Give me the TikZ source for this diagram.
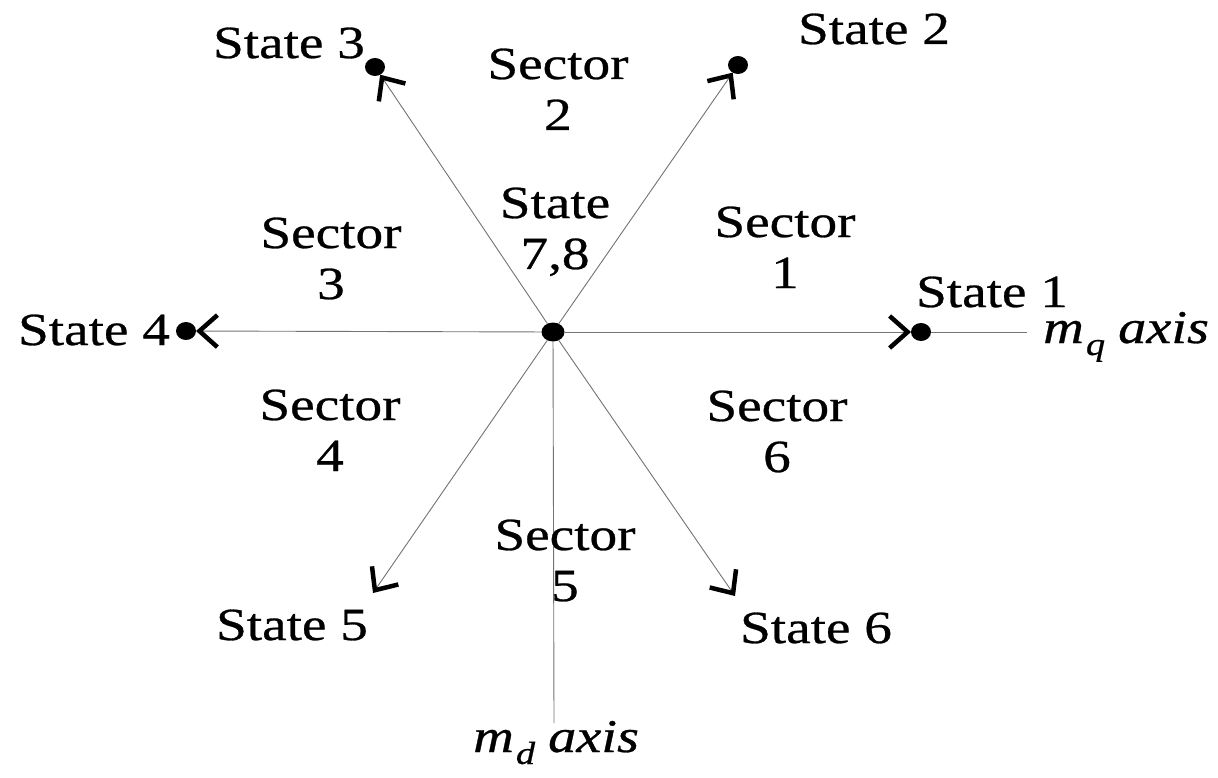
\documentclass[tikz,border=0pt]{standalone}
\usepackage{fontspec}
\setmainfont{Liberation Serif}[FakeStretch=1.2,FakeBold=0.6]
\usetikzlibrary{arrows.meta,shapes.geometric}
\begin{document}
\begin{tikzpicture}[x=1pt,y=-1pt,
  lbl/.style={font=\fontsize{46}{51}\selectfont, align=center, anchor=base, inner sep=0pt},
  axlbl/.style={font=\fontsize{47}{48}\selectfont\itshape, anchor=base west, inner sep=0pt},
  dot/.style={ellipse, fill=black, minimum width=20pt, minimum height=18pt, inner sep=0pt, outer sep=0pt},
  cdot/.style={ellipse, fill=black, minimum width=23pt, minimum height=19pt, inner sep=0pt, outer sep=0pt},
  ray/.style={draw=black!55, line width=0.9pt, -{Straight Barb[length=18pt,width=32pt,line width=4.5pt,color=black]}},
  axisline/.style={draw=black!55, line width=0.9pt}
]
\useasboundingbox (0,0) rectangle (1218,778);
% dots
\node[cdot] (c) at (553,332) {};
\node[dot] (s1) at (921,332) {};
\node[dot] (s4) at (186,331) {};
\node[dot] (s3) at (375,67) {};
\node[dot] (s2) at (738,65) {};
\coordinate (e5) at (373,593);
\coordinate (e6) at (735,596);
\coordinate (qend) at (1027,332);
\coordinate (dend) at (554,723);
% connectors
\draw[ray] (c) -- (s1);
\draw[ray] (c) -- (s4);
\draw[ray] (c) -- (s3);
\draw[ray] (c) -- (s2);
\draw[ray] (c) -- (e5);
\draw[ray] (c) -- (e6);
\draw[axisline] (s1) -- (qend);
\draw[axisline] (c) -- (dend);
% labels (multi-line nodes: base = baseline of last line)
\node[lbl] (ls2) at (874,44) {State 2};
\node[lbl] (ls3) at (289,58) {State 3};
\node[lbl] (sec2) at (558,130) {Sector\\2};
\node[lbl] (ls78) at (555,269) {State\\7,8};
\node[lbl] (sec3) at (331,299) {Sector\\3};
\node[lbl] (sec1) at (785,288) {Sector\\1};
\node[lbl] (ls1) at (992,307) {State 1};
\node[lbl] (ls4) at (94,345) {State 4};
\node[lbl] (sec4) at (330,471) {Sector\\4};
\node[lbl] (sec6) at (777,472) {Sector\\6};
\node[lbl] (sec5) at (565,601) {Sector\\5};
\node[lbl] (ls5) at (292,640) {State 5};
\node[lbl] (ls6) at (816,643) {State 6};
\node[axlbl] (mq) at (1043,343) {m\kern2pt\raisebox{-12pt}{\fontsize{32}{32}\selectfont q}\kern13pt axis};
\node[axlbl] (md) at (473,752) {m\kern2pt\raisebox{-12pt}{\fontsize{32}{32}\selectfont d}\kern13pt axis};
\end{tikzpicture}
\end{document}
